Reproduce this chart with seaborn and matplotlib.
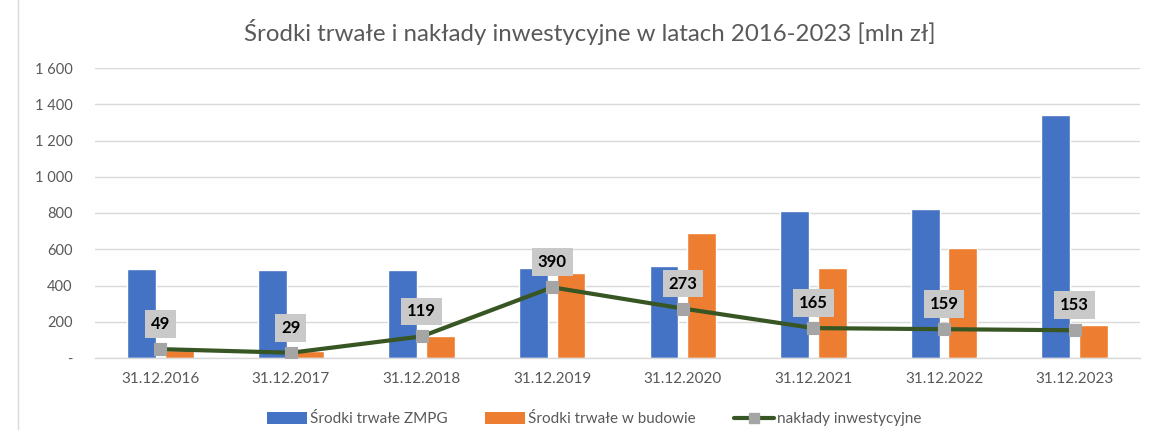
import matplotlib
matplotlib.use("Agg")
import matplotlib.pyplot as plt
from matplotlib.lines import Line2D
from matplotlib.patches import Patch
from matplotlib.ticker import FuncFormatter, FixedLocator
import seaborn as sns
import pandas as pd

dates = ["31.12.2016", "31.12.2017", "31.12.2018", "31.12.2019",
         "31.12.2020", "31.12.2021", "31.12.2022", "31.12.2023"]
zmpg = [490, 484, 487, 497, 509, 813, 820, 1342]
w_budowie = [45, 38, 122, 470, 688, 498, 609, 181]
naklady = [49, 29, 119, 390, 273, 165, 159, 153]
series_names = ["Środki trwałe ZMPG", "Środki trwałe w budowie", "nakłady inwestycyjne"]
title = "Środki trwałe i nakłady inwestycyjne w latach 2016-2023 [mln zł]"

sns.set_theme(style="white")
plt.rcParams["font.family"] = ["Lato", "DejaVu Sans"]

df = pd.DataFrame({
    "data": dates * 2,
    "wartosc": zmpg + w_budowie,
    "seria": [series_names[0]] * len(dates) + [series_names[1]] * len(dates),
})

fig = plt.figure(figsize=(11.51, 4.30), dpi=100)
ax = fig.add_axes([95 / 1151, 1 - 358 / 430, 1045 / 1151, 290 / 430])

blue = "#4472C4"
orange = "#ED7D31"
green = "#375623"
grey_m = "#A5A5A5"
txt = "#595959"

sns.barplot(data=df, x="data", y="wartosc", hue="seria", order=dates,
            palette=[blue, orange], width=0.576, gap=0.23, ax=ax,
            legend=False, saturation=1)

sns.pointplot(x=dates, y=naklady, order=dates, color=green, ax=ax,
              markers="s", linewidth=3, markersize=7.5,
              markerfacecolor=grey_m, markeredgecolor=grey_m, zorder=5)

for i, v in enumerate(naklady):
    ax.annotate(str(v), xy=(i, v), xytext=(0, 25), textcoords="offset pixels",
                ha="center", va="center", fontsize=12, fontweight="bold",
                color="black", zorder=6,
                bbox=dict(boxstyle="square,pad=0.35", fc="#C9C9C9", ec="none"))

ax.set_xlim(-0.5, 7.5)
ax.set_ylim(0, 1600)
ax.yaxis.set_major_locator(FixedLocator(range(0, 1601, 200)))
ax.yaxis.set_major_formatter(FuncFormatter(
    lambda v, p: "-" if v == 0 else f"{int(v):,}".replace(",", " ")))
ax.grid(axis="y", color="#D9D9D9", linewidth=1)
ax.set_axisbelow(True)
for s in ["top", "right", "left"]:
    ax.spines[s].set_visible(False)
ax.spines["bottom"].set_color("#D9D9D9")
ax.spines["bottom"].set_linewidth(1)
ax.set_xlabel("")
ax.set_ylabel("")
ax.tick_params(axis="y", length=0, labelsize=10.5, labelcolor=txt, pad=16)
ax.tick_params(axis="x", which="major", length=0, labelsize=11, labelcolor=txt, pad=10)
ax.set_xticks([i + 0.5 for i in range(-1, 8)], minor=True)
ax.tick_params(axis="x", which="minor", length=5, color="#D9D9D9", width=1)

fig.suptitle(title, x=590 / 1151, y=0.955, fontsize=17.3, color=txt)

handles = [Patch(facecolor=blue, edgecolor="none"),
           Patch(facecolor=orange, edgecolor="none"),
           Line2D([0], [0], color=green, lw=3, marker="s", markersize=7.5,
                  markerfacecolor=grey_m, markeredgecolor=grey_m)]
fig.legend(handles, series_names, loc="center", bbox_to_anchor=(594 / 1151, 1 - 419 / 430),
           ncol=3, frameon=False, fontsize=11, labelcolor=txt,
           handlelength=2.6, handleheight=0.8, columnspacing=2.5, handletextpad=0.2)

fig.add_artist(Line2D([18 / 1151, 18 / 1151], [0, 1], color="#D9D9D9", lw=1))

fig.savefig("out.png", dpi=100)
